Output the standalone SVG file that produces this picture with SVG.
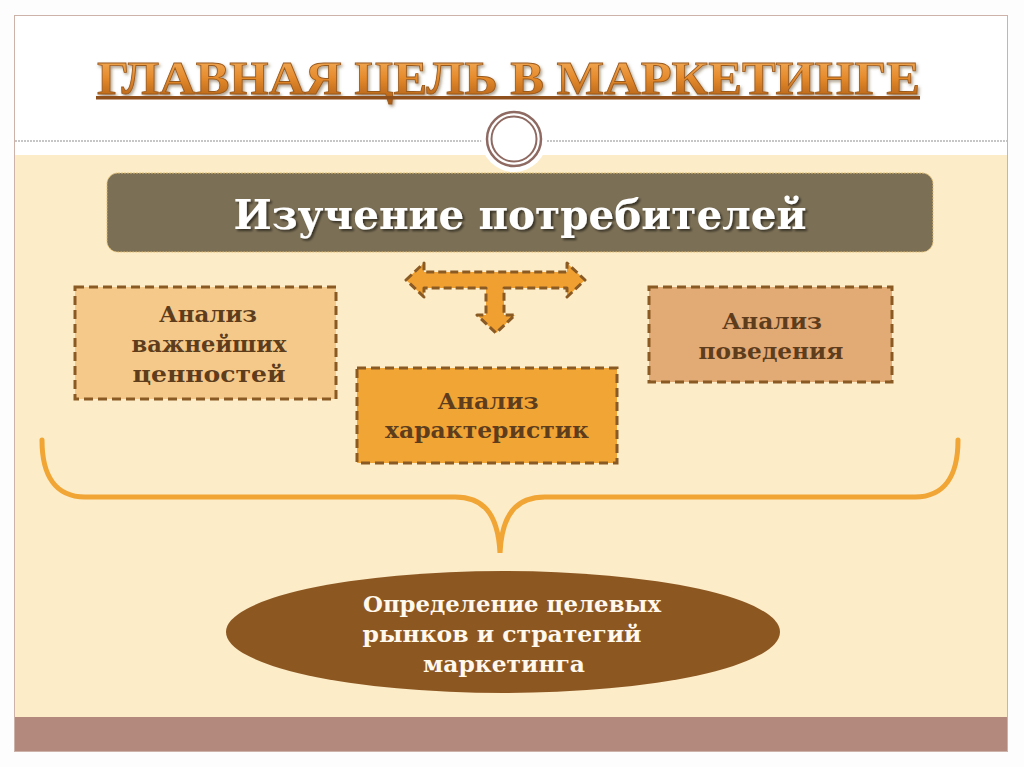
<svg xmlns="http://www.w3.org/2000/svg" width="1024" height="767" viewBox="0 0 1024 767">
<defs>
<linearGradient id="tg" x1="0" y1="0" x2="0" y2="1">
<stop offset="0" stop-color="#f7b565"/>
<stop offset="0.5" stop-color="#e58a2c"/>
<stop offset="1" stop-color="#a95a14"/>
</linearGradient>
<filter id="sh" x="-10%" y="-20%" width="120%" height="150%">
<feDropShadow dx="2" dy="2" stdDeviation="1.2" flood-color="#000" flood-opacity="0.55"/>
</filter>
<filter id="sh2" x="-10%" y="-20%" width="120%" height="150%">
<feDropShadow dx="1.5" dy="2" stdDeviation="1.5" flood-color="#5a3a10" flood-opacity="0.5"/>
</filter>
</defs>
<style>
.box{stroke:#8a5a25;stroke-width:3;stroke-dasharray:9 5}
.bt{font-family:"DejaVu Serif",serif;font-weight:bold;font-size:22px;fill:#5e3d1d;text-anchor:middle}
.et{font-family:"DejaVu Serif",serif;font-weight:bold;font-size:22px;fill:#fff8ec;text-anchor:middle}
</style>
<rect width="1024" height="767" fill="#fdfdfd"/>
<rect x="14.5" y="15.5" width="993" height="736" fill="#ffffff" stroke="#cdb2aa" stroke-width="1"/>
<rect x="15" y="155" width="992" height="562" fill="#fcecc8"/>
<rect x="15" y="717" width="992" height="34" fill="#b3897d"/>
<line x1="15" y1="141" x2="484" y2="141" stroke="#8d8d8d" stroke-width="1" stroke-dasharray="2 1"/>
<line x1="544" y1="141" x2="1007" y2="141" stroke="#8d8d8d" stroke-width="1" stroke-dasharray="2 1"/>
<circle cx="514" cy="139" r="33" fill="#ffffff"/>
<circle cx="514" cy="139" r="27" fill="none" stroke="#8e6a62" stroke-width="2.5"/>
<circle cx="514" cy="139" r="22.5" fill="none" stroke="#8e6a62" stroke-width="2"/>
<g id="title">
<text x="97" y="94" textLength="823" lengthAdjust="spacingAndGlyphs" font-family="Liberation Serif, serif" font-weight="bold" font-size="47" fill="url(#tg)" stroke="#9a5a1e" stroke-width="0.8" filter="url(#sh2)">ГЛАВНАЯ ЦЕЛЬ В МАРКЕТИНГЕ</text>
<rect x="96" y="96" width="824" height="3.5" fill="#8f4f1c"/>
</g>
<g id="header">
<rect x="107" y="173" width="826" height="79" rx="11" fill="#7b6f55" stroke="#e3c074" stroke-width="1" stroke-dasharray="2 1"/>
<text x="520" y="229" textLength="573" lengthAdjust="spacingAndGlyphs" text-anchor="middle" font-family="DejaVu Serif, serif" font-weight="bold" font-size="41" fill="#ffffff" filter="url(#sh)">Изучение потребителей</text>
</g>
<g id="connectors">
<path d="M406,280 L424,263 L424,272 L567,272 L567,263 L585,280 L567,297 L567,288 L504,288 L504,315 L515,315 L496,333 L477,315 L486,315 L486,288 L424,288 L424,297 Z" fill="#f0a030" stroke="#8a5a25" stroke-width="3" stroke-dasharray="8 4" stroke-linejoin="round"/>
<path d="M42,440 C42,475 55,497 85,497 L455,497 C482,497 498,512 500,553 C502,512 518,497 545,497 L915,497 C945,497 958,475 958,440" fill="none" stroke="#f0a535" stroke-width="5" stroke-linecap="round"/>
</g>
<g id="values">
<rect x="75" y="287" width="261" height="112" class="box" fill="#f5c98a"/>
<text class="bt" x="208" y="322" textLength="98" lengthAdjust="spacingAndGlyphs">Анализ</text>
<text class="bt" x="209" y="352" textLength="155" lengthAdjust="spacingAndGlyphs">важнейших</text>
<text class="bt" x="209" y="382" textLength="153" lengthAdjust="spacingAndGlyphs">ценностей</text>
</g>
<g id="behaviour">
<rect x="649" y="287" width="243" height="95" class="box" fill="#e2aa75"/>
<text class="bt" x="772" y="329" textLength="100" lengthAdjust="spacingAndGlyphs">Анализ</text>
<text class="bt" x="771" y="359" textLength="145" lengthAdjust="spacingAndGlyphs">поведения</text>
</g>
<g id="characteristics">
<rect x="357" y="368" width="260" height="95" class="box" fill="#f0a535"/>
<text class="bt" x="488" y="409" textLength="101" lengthAdjust="spacingAndGlyphs">Анализ</text>
<text class="bt" x="487" y="438" textLength="204" lengthAdjust="spacingAndGlyphs">характеристик</text>
</g>
<g id="target">
<ellipse cx="503" cy="632" rx="277" ry="61" fill="#8d5722"/>
<text class="et" x="512" y="612" textLength="298" lengthAdjust="spacingAndGlyphs">Определение  целевых</text>
<text class="et" x="502" y="642" textLength="279" lengthAdjust="spacingAndGlyphs">рынков и стратегий</text>
<text class="et" x="504" y="672" textLength="162" lengthAdjust="spacingAndGlyphs">маркетинга</text>
</g>
</svg>
